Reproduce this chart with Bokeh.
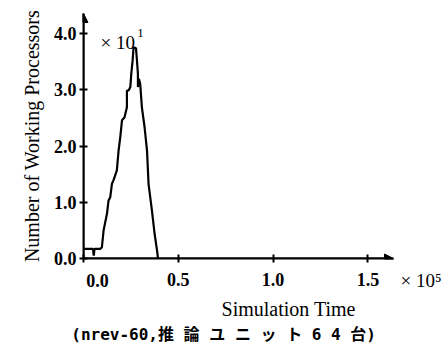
from bokeh.plotting import figure
from bokeh.models import (Range1d, FixedTicker, PrintfTickFormatter, Label,
                          Arrow, NormalHead, ColumnDataSource)
from bokeh.embed import file_html
from bokeh.resources import INLINE

# Simulation time (x 1e5) and number of working processors (x 10)
sim_time = [0.000, 0.050, 0.054, 0.058, 0.088, 0.097, 0.106, 0.124, 0.132,
            0.141, 0.150, 0.158, 0.176, 0.185, 0.194, 0.203, 0.216, 0.229,
            0.229, 0.238, 0.247, 0.252, 0.259, 0.264, 0.277, 0.282, 0.287,
            0.287, 0.292, 0.299, 0.308, 0.322, 0.335, 0.343, 0.361, 0.375,
            0.388, 0.393]
working = [0.17, 0.17, 0.05, 0.17, 0.17, 0.20, 0.50, 0.80, 1.03,
           1.09, 1.33, 1.39, 1.57, 1.92, 2.16, 2.46, 2.51, 2.69,
           2.99, 2.99, 3.05, 3.29, 3.52, 3.76, 3.74, 3.52, 3.29,
           3.05, 3.20, 3.11, 2.69, 2.34, 1.92, 1.33, 0.85, 0.44,
           0.14, 0.00]

x_ticks = [0.0, 0.5, 1.0, 1.5]
y_ticks = [0.0, 1.0, 2.0, 3.0, 4.0]
x_label = "Simulation Time"
y_label = "Number of Working Processors"
caption = "(nrev-60,推 論 ユ ニ ッ ト 6 4 台)"

X_MAX = 1.635
Y_MAX = 4.36

SERIF = "Liberation Serif"

p = figure(width=448, height=349, output_backend="svg", toolbar_location=None,
           x_range=Range1d(0, X_MAX), y_range=Range1d(0, Y_MAX),
           min_border_left=83, min_border_right=55, min_border_top=13,
           min_border_bottom=91)
p.outline_line_color = None
p.grid.visible = False
p.background_fill_color = "white"
p.border_fill_color = "white"

for ax in (p.xaxis[0], p.yaxis[0]):
    ax.axis_line_width = 2
    ax.axis_line_color = "black"
    ax.major_tick_line_width = 2
    ax.major_tick_line_color = "black"
    ax.major_tick_in = 4
    ax.major_tick_out = 4
    ax.minor_tick_line_color = None
    ax.major_label_text_font = SERIF
    ax.major_label_text_font_style = "bold"
    ax.major_label_text_font_size = "18px"
    ax.major_label_text_color = "black"
    ax.formatter = PrintfTickFormatter(format="%.1f")

p.xaxis.ticker = FixedTicker(ticks=x_ticks)
p.yaxis.ticker = FixedTicker(ticks=y_ticks)
p.xaxis.major_label_overrides = {0: ""}
p.xaxis.major_label_standoff = 10
p.yaxis.major_label_standoff = 3

p.yaxis.axis_label = y_label
p.yaxis.axis_label_text_font = SERIF
p.yaxis.axis_label_text_font_style = "normal"
p.yaxis.axis_label_text_font_size = "20px"
p.yaxis.axis_label_text_color = "black"
p.yaxis.axis_label_standoff = 8

src = ColumnDataSource(data=dict(t=sim_time, n=working))
p.line("t", "n", source=src, line_color="black", line_width=2.2)

# axis arrow heads
p.add_layout(Arrow(end=NormalHead(size=9, fill_color="black", line_color="black"),
                   x_start=0, y_start=0, x_end=0, y_end=Y_MAX,
                   line_width=2, line_color="black"))
p.add_layout(Arrow(end=NormalHead(size=9, fill_color="black", line_color="black"),
                   x_start=0, y_start=0, x_end=X_MAX, y_end=0,
                   line_width=2, line_color="black"))


def lab(text, x, y, size, font=SERIF, style="normal", align="left",
        baseline="alphabetic"):
    return Label(x=x, y=y, text=text, text_font=font, text_font_style=style,
                 text_font_size=size, text_align=align,
                 text_baseline=baseline, text_color="black")


# exponent marker for y (inside the frame)
p.add_layout(lab("× 10", 0.09, 3.85, "19px"))
p.add_layout(lab("1", 0.283, 4.02, "13px"))

# labels below / right of the frame
p.add_layout(lab("0.0", 0.074, -0.40, "18px", style="bold",
                 align="center", baseline="middle"), "below")
p.add_layout(lab(x_label, 1.082, -0.907, "20px", align="center",
                 baseline="middle"), "below")
p.add_layout(lab(caption, 0.739, -1.36, "16px",
                 font="DejaVu Sans Mono, Noto Sans CJK JP", style="bold",
                 align="center", baseline="middle"), "below")
p.add_layout(lab("× 10⁵", 1.672, -0.39, "19px"), "right")

open("out.html", "w").write(file_html(p, INLINE))
